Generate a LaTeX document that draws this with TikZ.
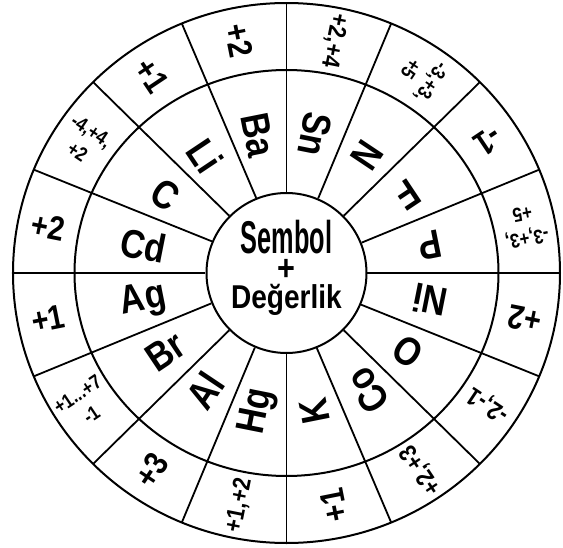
\documentclass[tikz,border=0pt]{standalone}
\usepackage{fontspec}
\setmainfont[FakeStretch=0.85]{Liberation Sans}
\newfontfamily\slimfont[FakeStretch=0.55]{Liberation Sans}
\usetikzlibrary{positioning}
\tikzset{
  ring/.style={draw, line width=2pt},
  spoke/.style={line width=1.8pt},
  sym/.style={font=\fontsize{40}{42}\selectfont\bfseries, inner sep=0pt},
  valbig/.style={font=\fontsize{34}{36}\selectfont\bfseries, inner sep=0pt},
  valmid/.style={font=\fontsize{25}{27}\selectfont\bfseries, inner sep=0pt},
  valsmall/.style={font=\fontsize{20}{25}\selectfont\bfseries, align=center, inner sep=0pt}
}

\begin{document}
\begin{tikzpicture}[x=1pt,y=1pt]
  \useasboundingbox (-286.5,-274) rectangle (276.5,273);

  % rings
  \draw[ring] (0,0) ellipse [x radius=273.5, y radius=270];
  \draw[ring] (0,0) ellipse [x radius=212, y radius=203];
  \node[ring, circle, minimum size=160, inner sep=0pt] (centre) at (0,0) {};

  % spokes
  \foreach \k in {0,...,15}
    \draw[spoke] (centre.\k*22.5) -- ({273.5*cos(\k*22.5)},{270*sin(\k*22.5)});

  % centre text
  \node[font={\fontsize{46}{48}\selectfont\slimfont\bfseries}, inner sep=0pt] (sembol) at (0,36) {Sembol};
  \node[font={\fontsize{36}{36}\selectfont\bfseries}, inner sep=0pt] (plus) at (0,3) {+};
  \node[font={\fontsize{33}{35}\selectfont\bfseries}, inner sep=0pt] (degerlik) at (0,-27) {Değerlik};

  % sectors: angle / symbol / valence / style
  \foreach \ang/\sym/\val/\vs [count=\i] in {
      78.75/Sn/{+2,+4}/valmid,
      56.25/N/{-3,+3,\\+5}/valsmall,
      33.75/F/{-1}/valbig,
      11.25/P/{-3,+3,\\+5}/valsmall,
     -11.25/Ni/{+2}/valbig,
     -33.75/O/{-2,-1}/valmid,
     -56.25/Co/{+2,+3}/valmid,
     -78.75/K/{+1}/valbig,
    -101.25/Hg/{+1,+2}/valmid,
    -123.75/Al/{+3}/valbig,
    -146.25/Br/{+1...+7\\-1}/valsmall,
    -168.75/Ag/{+1}/valbig,
     168.75/Cd/{+2}/valbig,
     146.25/C/{-4,+4,\\+2}/valsmall,
     123.75/Li/{+1}/valbig,
     101.25/Ba/{+2}/valbig}
  {
    \node[sym, rotate=\ang+180] (sym\i) at ({146*cos(\ang)},{141*sin(\ang)}) {\sym};
    \node[\vs, rotate=\ang+180] (val\i) at ({243*cos(\ang)},{237*sin(\ang)}) {\val};
  }
\end{tikzpicture}
\end{document}
